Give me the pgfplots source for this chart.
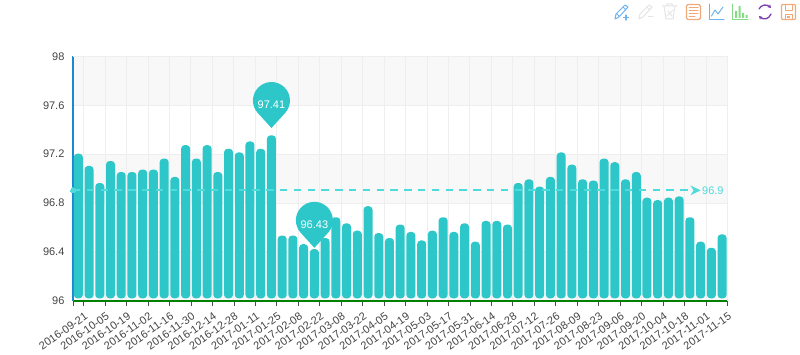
\documentclass[border=0pt]{standalone}
\usepackage{pgfplots}
\pgfplotsset{compat=1.18}
\usepackage{fontspec}
\setmainfont{Liberation Sans}
\usetikzlibrary{arrows.meta}
\definecolor{bar}{HTML}{2EC7C9}
\definecolor{mline}{HTML}{4FDADB}
\definecolor{band}{HTML}{F8F8F8}
\definecolor{gridc}{HTML}{EEEEEE}
\definecolor{txt}{HTML}{444444}
\definecolor{ico1}{HTML}{6FB3F0}
\definecolor{ico2}{HTML}{E4E4E4}
\definecolor{ico3}{HTML}{EFA97A}
\definecolor{ico4}{HTML}{86DB86}
\definecolor{ico5}{HTML}{7A3FB0}
\definecolor{yax}{HTML}{1A8AD0}
\definecolor{xax}{HTML}{008000}
\pgfdeclareplotmark{pin}{%
  \pgfpathmoveto{\pgfqpoint{0pt}{0pt}}%
  \pgfpathlineto{\pgfpointadd{\pgfqpoint{0pt}{27.5pt}}{\pgfpointpolar{-42.3}{18.5pt}}}%
  \pgfpatharc{-42.3}{222.3}{18.5pt}%
  \pgfpathclose
  \pgfusepathqfill}
\begin{document}
\begin{tikzpicture}[x=1pt,y=1pt]
\useasboundingbox (0,0) rectangle (800,354);
\begin{axis}[
  at={(68,43.5)},anchor=south west,scale only axis,width=654.5pt,height=244.5pt,
  xmin=-0.5,xmax=60.5,ymin=96,ymax=98,hide axis,
]
\fill[band] (axis cs:-0.5,97.6) rectangle (axis cs:60.5,98);
\fill[band] (axis cs:-0.5,96.8) rectangle (axis cs:60.5,97.2);
\fill[band] (axis cs:-0.5,96) rectangle (axis cs:60.5,96.4);
\end{axis}
\begin{axis}[
  at={(68,43.5)},anchor=south west,scale only axis,width=654.5pt,height=244.5pt,
  xmin=-0.5,xmax=60.5,ymin=96,ymax=98,
  axis lines*=left,
  x axis line style={draw=xax,line width=2pt},
  y axis line style={draw=yax,line width=2pt},
  xtick={-0.5,0.5,2.5,4.5,6.5,8.5,10.5,12.5,14.5,16.5,18.5,20.5,22.5,24.5,26.5,28.5,30.5,32.5,34.5,36.5,38.5,40.5,42.5,44.5,46.5,48.5,50.5,52.5,54.5,56.5,58.5,60.5},
  xticklabels={,2016-09-21,2016-10-05,2016-10-19,2016-11-02,2016-11-16,2016-11-30,2016-12-14,2016-12-28,2017-01-11,2017-01-25,2017-02-08,2017-02-22,2017-03-08,2017-03-22,2017-04-05,2017-04-19,2017-05-03,2017-05-17,2017-05-31,2017-06-14,2017-06-28,2017-07-12,2017-07-26,2017-08-09,2017-08-23,2017-09-06,2017-09-20,2017-10-04,2017-10-18,2017-11-01,2017-11-15},
  ytick={96,96.4,96.8,97.2,97.6,98},
  yticklabel style={/pgf/number format/fixed,/pgf/number format/precision=1,/pgf/number format/assume math mode=true,font=\fontsize{11}{13}\selectfont,text=txt},
  xticklabel style={rotate=35,anchor=north east,inner sep=0pt,xshift=-3pt,yshift=-5pt,font=\fontsize{11}{13}\selectfont,text=txt},
  tick align=outside,major tick length=5pt,
  xtick style={draw=black!70,line width=0.8pt},
  ytick style={draw=none},
  grid=major,grid style={draw=gridc,line width=1pt},
]
\draw[gridc,line width=1pt] (axis cs:-0.5,98) -- (axis cs:60.5,98) -- (axis cs:60.5,96);
\end{axis}
\begin{axis}[
  at={(68,45.5)},anchor=south west,scale only axis,width=654.5pt,height=242.5pt,
  xmin=-0.5,xmax=60.5,ymin=96.0164,ymax=98,
  hide axis,clip=false,
]
\addplot[ybar,bar width=9pt,bar shift=0pt,fill=bar,draw=none,rounded corners=3.5pt] coordinates {
(0,97.20)(1,97.10)(2,96.96)(3,97.14)(4,97.05)(5,97.05)(6,97.07)(7,97.07)(8,97.16)(9,97.01)
(10,97.27)(11,97.16)(12,97.27)(13,97.05)(14,97.24)(15,97.21)(16,97.30)(17,97.24)(18,97.35)(19,96.53)
(20,96.53)(21,96.46)(22,96.42)(23,96.51)(24,96.68)(25,96.63)(26,96.57)(27,96.77)(28,96.55)(29,96.51)
(30,96.62)(31,96.56)(32,96.49)(33,96.57)(34,96.68)(35,96.56)(36,96.63)(37,96.48)(38,96.65)(39,96.65)
(40,96.62)(41,96.96)(42,96.99)(43,96.93)(44,97.01)(45,97.21)(46,97.11)(47,96.99)(48,96.98)(49,97.16)
(50,97.13)(51,96.99)(52,97.05)(53,96.84)(54,96.82)(55,96.84)(56,96.85)(57,96.68)(58,96.48)(59,96.43)
(60,96.54)};
\addplot[draw=mline,line width=2pt,dash pattern=on 7.5pt off 6.3pt,-{Stealth[length=10pt,width=9.5pt,inset=3pt,fill=mline]},
  mark=*,mark indices={1},mark size=2.5pt,mark options={solid,fill=mline,draw=mline,line width=0pt}]
  coordinates {(-0.5,96.9)(58,96.9)} node[pos=1,right,inner sep=0pt,text=mline,font=\fontsize{11}{13}\selectfont,xshift=0.5pt]{96.9};
\addplot[only marks,mark=pin,color=bar,mark options={fill=bar,draw=none},
  point meta=explicit symbolic,nodes near coords,
  every node near coord/.style={anchor=center,yshift=23pt,text=white,inner sep=0pt,font=\fontsize{11}{13}\selectfont}]
  coordinates {(18,97.41)[97.41] (22,96.43)[96.43]};
\end{axis}
\begin{scope}[shift={(0,354)},yscale=-1,line join=round,line cap=round,line width=1pt]
 % pen blue
 \draw[ico1] (615,19) -- (616,14) -- (625,5) -- (628,7) -- (619,17) -- cycle (623,7) -- (626,10) (617,14) -- (619,16);
 \draw[ico1,line width=1.3pt] (626,15) -- (626,20) (623.5,17.5) -- (628.5,17.5);
 % pen gray
 \draw[ico2] (639,19) -- (640,14) -- (649,5) -- (652,7) -- (643,17) -- cycle (647,7) -- (650,10);
 \draw[ico2] (648,17) -- (653,17);
 % trash
 \draw[ico2] (662,6) -- (677,6) (666,6) -- (667,4) -- (672,4) -- (673,6) (664,6) -- (666,19) -- (673,19) -- (675,6);
 \draw[ico2] (667,16) -- (673,10) (668,11) -- (672,16);
 % document
 \draw[ico3,rounded corners=1.5pt,line width=1.2pt] (686.5,4.5) rectangle (700.5,19.5);
 \draw[ico3] (689,8) -- (698,8) (689,11) -- (698,11) (689,14) -- (698,14) (689,17) -- (695,17);
 % line chart
 \draw[ico1] (709.5,4) -- (709.5,19.5) -- (724,19.5);
 \draw[ico1] (711.5,16) -- (715,10) -- (718,14) -- (723,7);
 % bar chart
 \draw[ico4] (732.5,4) -- (732.5,19.5) -- (748,19.5);
 \fill[ico4] (735,11) rectangle (737,18) (738.5,6) rectangle (740.5,18) (742,13) rectangle (744,18) (745.5,15) rectangle (747.5,18);
 % refresh
 \draw[ico5,line width=1.3pt,-{Stealth[length=3.5pt,width=4pt]}] (759,9) .. controls (761,4.5) and (767,4) .. (771,8);
 \draw[ico5,line width=1.3pt,-{Stealth[length=3.5pt,width=4pt]}] (771,14) .. controls (769,19.5) and (763,20) .. (759,16);
 % save
 \draw[ico3,line width=1.2pt,rounded corners=1pt] (781.5,4.5) rectangle (795.5,19.5);
 \draw[ico3] (785,4.5) -- (785,11) -- (792,11) -- (792,4.5);
 \draw[ico3] (785,19.5) -- (785,15) -- (792,15) -- (792,19.5);
 \fill[ico3] (787,16) rectangle (790,18);
\end{scope}
\end{tikzpicture}
\end{document}
